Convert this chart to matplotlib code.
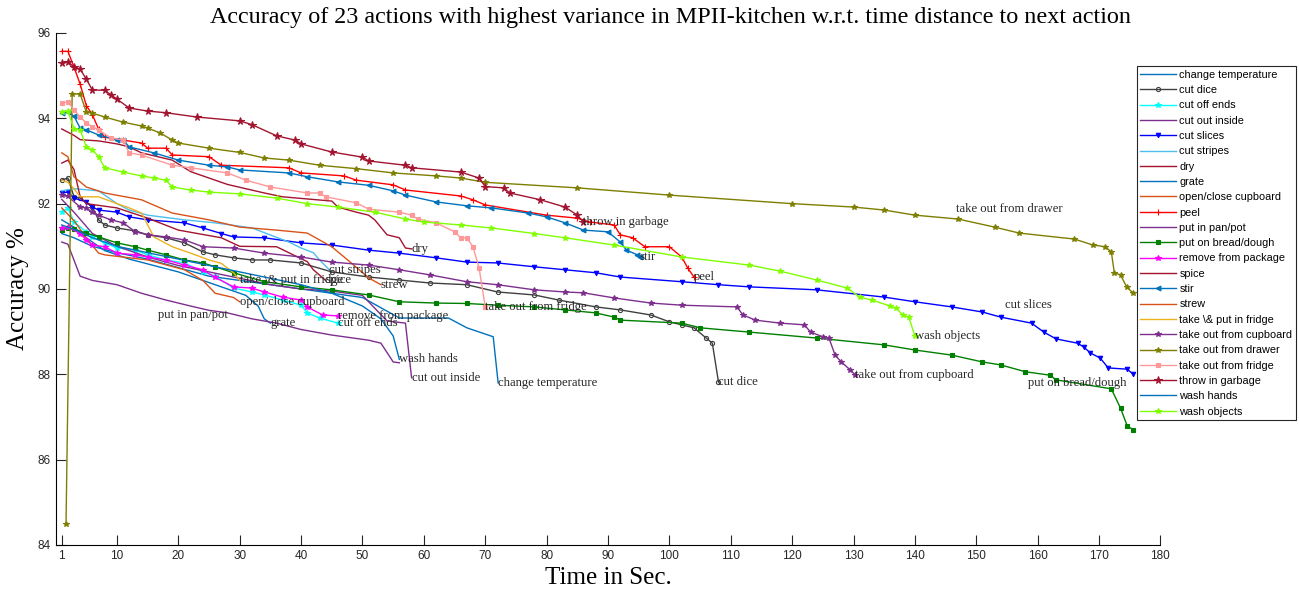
import matplotlib
matplotlib.use("Agg")
import matplotlib.pyplot as plt

# values (x = seconds, y = accuracy %)
change_temperature_x = [1, 3, 6, 10, 15, 20, 25, 30, 40, 50, 56, 64, 67, 71.3, 72.1]
change_temperature_y = [91.3, 91.2, 91.0, 90.85, 90.7, 90.5, 90.3, 90.2, 90.0, 89.8, 89.32, 89.32, 89.09, 88.88, 87.8]

cut_dice_x = [1, 2, 3, 4, 6, 7, 8, 10, 13, 15, 18, 21, 24, 26, 29, 32, 35, 40, 45, 51, 56, 61, 67, 72, 78, 82, 88, 92, 97, 100, 102, 104, 106, 107, 108]
cut_dice_y = [92.55, 92.6, 92.16, 92.13, 91.92, 91.62, 91.5, 91.43, 91.36, 91.27, 91.2, 91.08, 90.87, 90.8, 90.73, 90.68, 90.68, 90.61, 90.4, 90.28, 90.21, 90.14, 90.1, 89.93, 89.86, 89.74, 89.58, 89.51, 89.39, 89.23, 89.16, 89.09, 88.85, 88.73, 87.82]

cut_off_ends_x = [1, 2, 3, 5, 6, 8, 10, 13, 15, 18, 21, 24, 26, 29, 32, 34, 37, 40, 41, 43, 46]
cut_off_ends_y = [91.8, 91.9, 91.57, 91.34, 91.22, 91.08, 90.96, 90.91, 90.8, 90.68, 90.61, 90.4, 90.3, 90.02, 89.93, 89.86, 89.74, 89.62, 89.44, 89.32, 89.2]

cut_out_inside_x = [1, 3, 6, 10, 15, 20, 25, 30, 35, 40, 45, 50, 54, 57, 58]
cut_out_inside_y = [92.1, 91.8, 91.3, 91.0, 90.75, 90.55, 90.4, 90.25, 90.1, 90.0, 89.95, 89.85, 89.25, 89.2, 87.92]

cut_slices_x = [1, 2, 3, 5, 6, 7, 10, 12, 15, 21, 24, 27, 29, 34, 40, 45, 51, 56, 62, 67, 72, 78, 83, 88, 92, 102, 108, 113, 124, 135, 140, 146, 151, 154, 159, 161, 163, 166.5, 167.5, 168.6, 170.2, 171.5, 174.6, 175.6]
cut_slices_y = [92.25, 92.27, 92.13, 92.04, 91.92, 91.85, 91.8, 91.69, 91.62, 91.55, 91.43, 91.3, 91.22, 91.2, 91.08, 91.03, 90.91, 90.84, 90.73, 90.63, 90.61, 90.52, 90.45, 90.38, 90.28, 90.17, 90.1, 90.05, 89.98, 89.81, 89.7, 89.58, 89.46, 89.34, 89.2, 88.99, 88.83, 88.73, 88.64, 88.5, 88.38, 88.15, 88.12, 88.0]

cut_stripes_x = [1, 3, 7, 10, 12, 15, 21, 26, 32, 38, 40, 42, 43, 44.6]
cut_stripes_y = [92.3, 92.35, 92.3, 92.0, 91.85, 91.73, 91.62, 91.55, 91.43, 91.1, 90.96, 90.85, 90.68, 90.45]

dry_x = [1, 3, 4, 7, 10, 12, 14, 19, 22, 28, 34, 37, 45, 46, 49, 51, 52, 54, 56, 57, 58]
dry_y = [93.75, 93.6, 93.5, 93.47, 93.4, 93.33, 93.19, 93.02, 92.75, 92.45, 92.25, 92.16, 92.06, 91.92, 91.8, 91.73, 91.62, 91.27, 91.2, 90.96, 90.94]

grate_x = [1, 3, 5, 8, 12, 16, 20, 24, 28, 31, 33, 34, 35]
grate_y = [91.62, 91.45, 91.2, 90.9, 90.7, 90.55, 90.4, 90.2, 90.0, 89.85, 89.6, 89.3, 89.2]

open_close_cupboard_x = [1, 3, 5, 7, 8, 15, 21, 24, 26, 29, 30]
open_close_cupboard_y = [91.9, 91.6, 91.2, 90.84, 90.8, 90.68, 90.45, 90.2, 89.9, 89.8, 89.7]

peel_x = [1, 2, 3, 4, 5, 6, 7, 8, 11, 14, 15, 18, 19, 25, 27, 38, 40, 47, 49, 55, 57, 66, 68, 70, 80, 85, 87, 91, 92, 94, 96, 100, 102, 103, 104]
peel_y = [95.57, 95.57, 95.2, 94.8, 94.3, 94.08, 93.75, 93.56, 93.49, 93.42, 93.3, 93.3, 93.14, 93.1, 92.9, 92.84, 92.72, 92.65, 92.55, 92.44, 92.32, 92.18, 92.09, 91.97, 91.73, 91.66, 91.57, 91.5, 91.27, 91.2, 90.99, 90.99, 90.75, 90.49, 90.28]

put_in_pan_pot_x = [1, 2, 4, 6, 10, 14, 18, 22, 25, 28, 32, 36, 40, 45, 51, 53, 55, 56]
put_in_pan_pot_y = [91.1, 91.05, 90.3, 90.2, 90.1, 89.9, 89.74, 89.6, 89.5, 89.44, 89.3, 89.2, 89.05, 88.92, 88.8, 88.73, 88.29, 88.27]

put_on_bread_x = [1, 2, 3, 5, 7, 10, 13, 15, 18, 21, 24, 26, 29, 34, 40, 45, 51, 56, 62, 67, 72, 78, 83, 88, 91, 92, 102, 105, 113, 124, 135, 140, 146, 151, 154, 158, 162, 163, 172, 173.5, 174.6, 175.6]
put_on_bread_y = [91.38, 91.43, 91.4, 91.31, 91.22, 91.08, 90.99, 90.91, 90.8, 90.68, 90.61, 90.52, 90.38, 90.17, 90.05, 89.98, 89.86, 89.7, 89.67, 89.66, 89.62, 89.58, 89.51, 89.44, 89.34, 89.27, 89.2, 89.09, 88.99, 88.85, 88.69, 88.57, 88.45, 88.29, 88.22, 88.06, 87.98, 87.87, 87.66, 87.21, 86.79, 86.7]

remove_package_x = [1, 2, 4, 5, 6, 8, 10, 13, 15, 18, 21, 24, 26, 29, 32, 34, 37, 40, 41, 43.5, 46]
remove_package_y = [91.43, 91.45, 91.3, 91.15, 91.03, 90.99, 90.84, 90.8, 90.75, 90.68, 90.56, 90.45, 90.27, 90.05, 90.02, 89.93, 89.81, 89.74, 89.58, 89.39, 89.37]

spice_x = [1, 2, 3, 4, 5, 10, 15, 20, 27, 30, 36, 41, 42, 44]
spice_y = [92.95, 93.02, 92.8, 92.16, 92.0, 91.9, 91.66, 91.38, 91.2, 91.0, 90.99, 90.64, 90.45, 90.2]

stir_x = [1, 2, 3, 4, 5, 7, 10, 11, 12, 16, 20, 25, 28, 30, 38, 41, 46, 51, 55, 57, 62, 67, 71, 77, 80, 83, 86, 90, 92, 93, 94.8, 95.2]
stir_y = [94.12, 94.15, 94.05, 93.77, 93.73, 93.61, 93.49, 93.49, 93.33, 93.19, 93.02, 92.9, 92.86, 92.79, 92.72, 92.63, 92.51, 92.43, 92.3, 92.2, 92.04, 91.95, 91.9, 91.78, 91.69, 91.55, 91.38, 91.34, 91.1, 90.91, 90.8, 90.75]

strew_x = [1, 2, 3, 5, 8, 14, 19, 25, 30, 36, 41, 45, 48, 51, 53]
strew_y = [93.19, 93.1, 92.63, 92.39, 92.25, 92.09, 91.78, 91.62, 91.45, 91.38, 91.31, 90.99, 90.63, 90.26, 90.1]

take_put_fridge_x = [1, 2, 3, 4, 7, 10, 12, 14, 16, 19, 22, 25, 27, 29, 30]
take_put_fridge_y = [92.55, 92.5, 92.35, 92.16, 92.16, 92.0, 91.9, 91.78, 91.22, 90.99, 90.84, 90.68, 90.6, 90.38, 90.2]

out_cupboard_x = [1, 2, 4, 5, 6, 7, 9, 11, 13, 15, 18, 21, 24, 29, 34, 40, 45, 51, 56, 61, 67, 72, 78, 83, 86, 91, 97, 102, 111, 112, 114, 118, 122, 123, 125, 126, 127, 128, 129.5, 130.3]
out_cupboard_y = [92.2, 92.17, 91.92, 91.9, 91.8, 91.73, 91.62, 91.55, 91.34, 91.27, 91.22, 91.15, 90.99, 90.96, 90.84, 90.75, 90.63, 90.56, 90.45, 90.33, 90.17, 90.1, 89.98, 89.93, 89.91, 89.79, 89.67, 89.62, 89.58, 89.39, 89.27, 89.2, 89.16, 88.99, 88.88, 88.85, 88.45, 88.29, 88.1, 87.98]

out_drawer_x = [1.7, 2.7, 4, 5, 6, 8, 11, 14, 15, 17, 19, 20, 25, 30, 34, 38, 43, 49, 55, 62, 66, 70, 85, 100, 120, 130, 135, 140, 147, 153, 157, 166, 169, 171, 172, 172.5, 173.5, 174.5, 175.5]
out_drawer_y = [84.5, 94.57, 94.57, 94.15, 94.12, 94.03, 93.91, 93.82, 93.77, 93.66, 93.49, 93.42, 93.3, 93.2, 93.07, 93.02, 92.9, 92.82, 92.72, 92.65, 92.6, 92.5, 92.37, 92.2, 92.0, 91.92, 91.85, 91.73, 91.64, 91.45, 91.31, 91.17, 91.03, 90.99, 90.87, 90.38, 90.33, 90.05, 89.91]

out_fridge_x = [1, 2, 3, 4, 5, 6, 7, 9, 11, 12, 14, 19, 22, 28, 31, 35, 41, 43, 44, 49, 51, 56, 58, 59, 62, 65, 66, 67, 68, 69, 70]
out_fridge_y = [94.36, 94.38, 94.2, 94.03, 93.89, 93.8, 93.73, 93.54, 93.49, 93.19, 93.14, 92.9, 92.84, 92.72, 92.55, 92.39, 92.25, 92.25, 92.16, 92.02, 91.87, 91.8, 91.73, 91.64, 91.55, 91.34, 91.2, 91.2, 90.99, 90.49, 89.58]

garbage_x = [1, 2, 3, 4, 5, 6, 8, 9, 10, 12, 15, 18, 23, 30, 32, 36, 39, 40, 45, 50, 51, 57, 58, 66, 69, 70, 73, 74, 79, 83, 85, 86]
garbage_y = [95.3, 95.33, 95.2, 95.15, 94.92, 94.66, 94.66, 94.55, 94.45, 94.24, 94.17, 94.13, 94.03, 93.94, 93.85, 93.59, 93.49, 93.4, 93.21, 93.09, 93.0, 92.9, 92.84, 92.74, 92.6, 92.4, 92.37, 92.25, 92.09, 91.92, 91.73, 91.57]

wash_hands_x = [1, 3, 6, 10, 15, 20, 25, 30, 35, 40, 45, 50, 53, 55, 56]
wash_hands_y = [91.5, 91.4, 91.2, 91.0, 90.85, 90.7, 90.55, 90.4, 90.25, 90.1, 89.9, 89.6, 89.3, 88.9, 88.35]

wash_objects_x = [1, 2, 3, 4, 5, 6, 7, 8, 11, 14, 16, 18, 19, 22, 25, 30, 36, 41, 46, 52, 57, 60, 66, 71, 78, 83, 91, 102, 113, 118, 124, 129, 131, 133, 136, 137, 138, 139, 140]
wash_objects_y = [94.15, 94.17, 93.75, 93.73, 93.33, 93.26, 93.1, 92.84, 92.74, 92.65, 92.6, 92.55, 92.39, 92.32, 92.27, 92.23, 92.13, 92.0, 91.92, 91.8, 91.64, 91.57, 91.5, 91.43, 91.3, 91.2, 91.03, 90.75, 90.56, 90.42, 90.21, 90.02, 89.81, 89.74, 89.6, 89.55, 89.39, 89.34, 88.9]

# name, x, y, color, marker, label position (None -> end of line)
series = [
    ("change temperature", change_temperature_x, change_temperature_y, "#0072BD", None, None),
    ("cut dice", cut_dice_x, cut_dice_y, "#404040", "o", None),
    ("cut off ends", cut_off_ends_x, cut_off_ends_y, "#00FFFF", "*", None),
    ("cut out inside", cut_out_inside_x, cut_out_inside_y, "#7E2F8E", None, None),
    ("cut slices", cut_slices_x, cut_slices_y, "#0000FF", "v", (154.7, 89.63)),
    ("cut stripes", cut_stripes_x, cut_stripes_y, "#4DBEEE", None, None),
    ("dry", dry_x, dry_y, "#A2142F", None, None),
    ("grate", grate_x, grate_y, "#0072BD", None, None),
    ("open/close cupboard", open_close_cupboard_x, open_close_cupboard_y, "#D95319", None, None),
    ("peel", peel_x, peel_y, "#FF0000", "+", None),
    ("put in pan/pot", put_in_pan_pot_x, put_in_pan_pot_y, "#7E2F8E", None, (16.7, 89.4)),
    ("put on bread/dough", put_on_bread_x, put_on_bread_y, "#008000", "s", (158.5, 87.8)),
    ("remove from package", remove_package_x, remove_package_y, "#FF00FF", "*", None),
    ("spice", spice_x, spice_y, "#A2142F", None, None),
    ("stir", stir_x, stir_y, "#0072BD", "<", None),
    ("strew", strew_x, strew_y, "#D95319", None, None),
    (r"take \& put in fridge", take_put_fridge_x, take_put_fridge_y, "#EDB120", None, None),
    ("take out from cupboard", out_cupboard_x, out_cupboard_y, "#7E2F8E", "*", None),
    ("take out from drawer", out_drawer_x, out_drawer_y, "#7E7E00", "*", (146.7, 91.87)),
    ("take out from fridge", out_fridge_x, out_fridge_y, "#FF9999", "s", None),
    ("throw in garbage", garbage_x, garbage_y, "#A2142F", "*", None),
    ("wash hands", wash_hands_x, wash_hands_y, "#0072BD", None, None),
    ("wash objects", wash_objects_x, wash_objects_y, "#7FFF00", "*", None),
]

fig = plt.figure(figsize=(12.99, 5.94), dpi=100)
ax = fig.add_axes([0.0428, 0.0825, 0.8505, 0.862])

marker_size = {"o": 3, "*": 4, "v": 3.2, "+": 4, "s": 2.5, "<": 3.5}

for name, xs, ys, col, mk, pos in series:
    kw = dict(color=col, lw=1.0, label=name)
    if mk is not None:
        kw.update(marker=mk, ms=marker_size[mk], mew=0.8)
        if mk == "o":
            kw.update(mfc="none")
        if name == "throw in garbage":
            kw.update(ms=5.5)
    ax.plot(xs, ys, **kw)
    if pos is None:
        pos = (xs[-1], ys[-1])
    ax.text(pos[0], pos[1], name, family="Liberation Serif", fontsize=9.1,
            ha="left", va="center", color="#262626")

ax.set_xlim(0, 180)
ax.set_ylim(84, 96)
ax.set_xticks([1] + list(range(10, 181, 10)))
ax.set_yticks(range(84, 97, 2))
ax.spines["top"].set_visible(False)
ax.spines["right"].set_visible(False)
ax.tick_params(direction="in", length=7, labelsize=8.5, colors="#262626")
for lab in ax.get_xticklabels() + ax.get_yticklabels():
    lab.set_family("Liberation Sans")

ax.set_xlabel("Time in Sec.", family="Liberation Serif", fontsize=18, labelpad=4)
ax.set_ylabel("Accuracy %", family="Liberation Serif", fontsize=18, labelpad=6)
fig.text(0.516, 0.971, "Accuracy of 23 actions with highest variance in MPII-kitchen w.r.t. time distance to next action",
         family="Liberation Serif", fontsize=17.4, ha="center", va="center")

leg = fig.legend(loc="upper right", bbox_to_anchor=(1.002, 0.898),
                 prop={"family": "Liberation Sans", "size": 7.8},
                 handlelength=3.3, handletextpad=0.3, labelspacing=0.49,
                 borderpad=0.35, fancybox=False, framealpha=1, edgecolor="#262626")
leg.get_frame().set_linewidth(0.8)

fig.savefig("out.png", dpi=100)
